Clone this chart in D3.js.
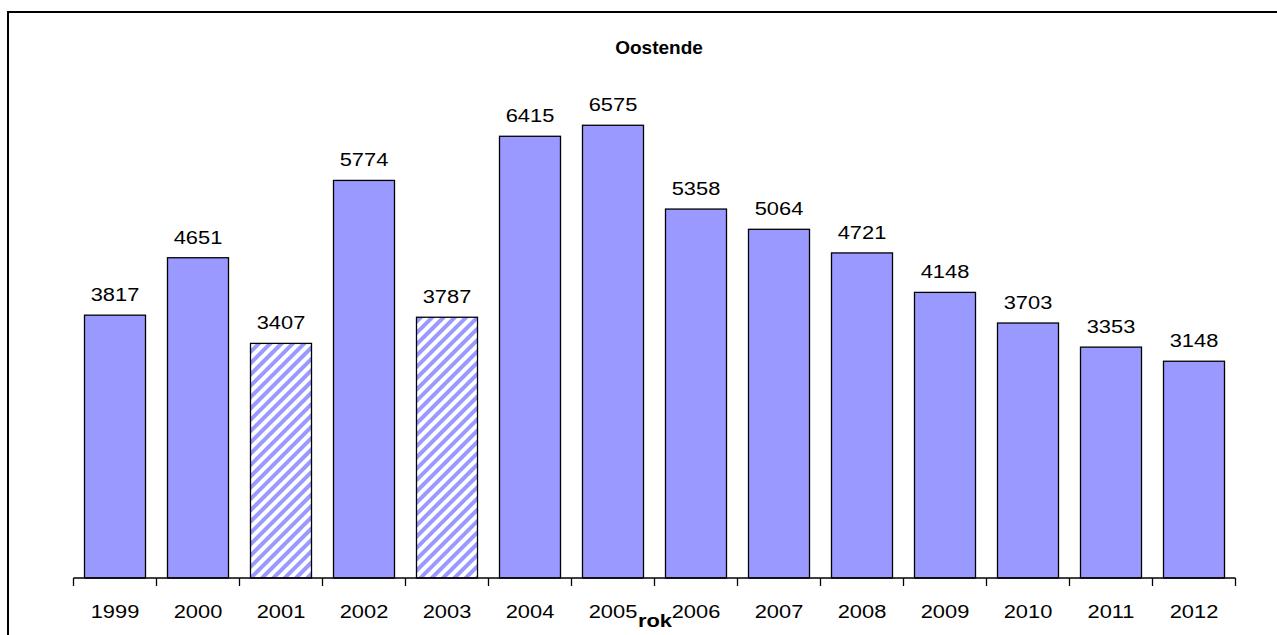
<!DOCTYPE html>
<html>
<head>
<meta charset="utf-8">
<script src="https://cdn.jsdelivr.net/npm/d3@7"></script>
<style>
  body { margin: 0; background: #fff; }
  text { font-family: "Liberation Sans", Arial, sans-serif; }
</style>
</head>
<body>
<div id="chart"></div>
<script>
// chart data
var years = ["1999", "2000", "2001", "2002", "2003", "2004", "2005", "2006", "2007", "2008", "2009", "2010", "2011", "2012"];
var values = [3817, 4651, 3407, 5774, 3787, 6415, 6575, 5358, 5064, 4721, 4148, 3703, 3353, 3148];
var hatchedYears = ["2001", "2003"];

var svgWidth = 1277;
var svgHeight = 635;

var svg = d3.select("#chart")
  .append("svg")
  .attr("width", svgWidth)
  .attr("height", svgHeight);

// striped fill for the estimated years
var defs = svg.append("defs");
var pattern = defs.append("pattern")
  .attr("id", "hatch")
  .attr("patternUnits", "userSpaceOnUse")
  .attr("width", 8)
  .attr("height", 8)
  .attr("patternTransform", "rotate(45)");
pattern.append("rect")
  .attr("width", 8)
  .attr("height", 8)
  .attr("fill", "#fff");
pattern.append("rect")
  .attr("width", 4)
  .attr("height", 8)
  .attr("fill", "#9999ff");

// outer frame (runs off the right and bottom edge)
svg.append("rect")
  .attr("x", 8)
  .attr("y", 12)
  .attr("width", 1300)
  .attr("height", 700)
  .attr("fill", "none")
  .attr("stroke", "#000")
  .attr("stroke-width", 2);

var x = d3.scaleBand()
  .domain(years)
  .range([73.5, 1235.5])
  .paddingInner(0.265)
  .paddingOuter(0.1325);

var y = d3.scaleLinear()
  .domain([0, 7000])
  .range([578, 96]);

// Excel-like wide digits
var stretch = 1.15;

// bars
svg.selectAll(".bar")
  .data(years)
  .enter()
  .append("rect")
  .attr("class", "bar")
  .attr("x", d => x(d))
  .attr("width", x.bandwidth())
  .attr("y", (d, i) => y(values[i]))
  .attr("height", (d, i) => y(0) - y(values[i]))
  .attr("fill", d => hatchedYears.includes(d) ? "url(#hatch)" : "#9999ff")
  .attr("stroke", "#000")
  .attr("stroke-width", 1.3);

// value labels
svg.selectAll(".val")
  .data(years)
  .enter()
  .append("text")
  .attr("class", "val")
  .attr("transform", (d, i) => `translate(${x(d) + x.bandwidth() / 2}, ${y(values[i]) - 14}) scale(${stretch}, 1)`)
  .attr("text-anchor", "middle")
  .attr("font-size", "19px")
  .attr("fill", "#000")
  .text((d, i) => values[i]);

// x axis with ticks between categories
var axisG = svg.append("g");
axisG.append("line")
  .attr("x1", x.range()[0])
  .attr("x2", x.range()[1])
  .attr("y1", y(0))
  .attr("y2", y(0))
  .attr("stroke", "#000")
  .attr("stroke-width", 1.3);

var step = x.step();
var tickPos = years.map(d => x(d) - x.paddingOuter() * step);
tickPos.push(x.range()[1]);
axisG.selectAll(".tick")
  .data(tickPos)
  .enter()
  .append("line")
  .attr("x1", d => d)
  .attr("x2", d => d)
  .attr("y1", y(0))
  .attr("y2", y(0) + 8)
  .attr("stroke", "#000")
  .attr("stroke-width", 1.3);

axisG.selectAll(".lbl")
  .data(years)
  .enter()
  .append("text")
  .attr("transform", d => `translate(${x(d) + x.bandwidth() / 2}, 618) scale(${stretch}, 1)`)
  .attr("text-anchor", "middle")
  .attr("font-size", "19px")
  .attr("fill", "#000")
  .text(d => d);

// axis title
svg.append("text")
  .attr("transform", `translate(655, 627) scale(${stretch}, 1)`)
  .attr("text-anchor", "middle")
  .attr("font-size", "19px")
  .attr("font-weight", "bold")
  .text("rok");

// chart title
svg.append("text")
  .attr("x", 659)
  .attr("y", 54)
  .attr("text-anchor", "middle")
  .attr("font-size", "19px")
  .attr("font-weight", "bold")
  .text("Oostende");
</script>
</body>
</html>
